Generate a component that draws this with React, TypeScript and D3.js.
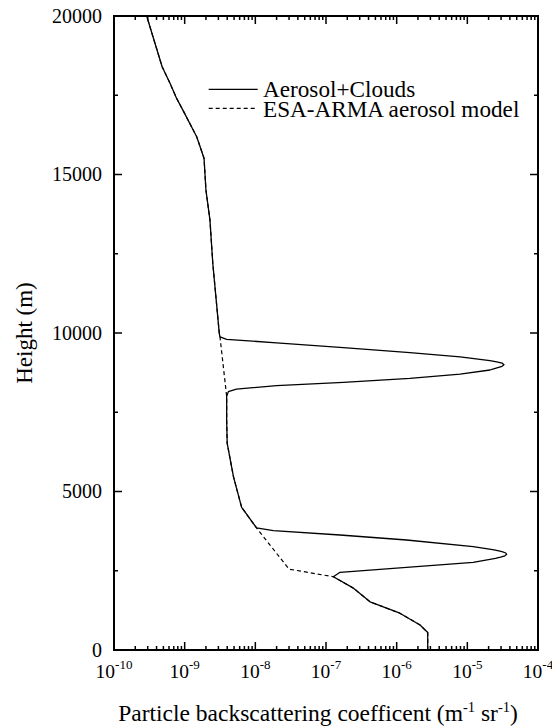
import React from "react";
import * as d3 from "d3";

// ESA-ARMA aerosol model profile (height in m, backscatter in m^-1 sr^-1)
const modelHeights = [0, 550, 790, 1160, 1520, 1950, 2310, 2550, 3850, 4500, 5470, 6520, 7250, 8000, 9880, 9990, 12200, 13560, 14510, 15510, 16190, 17000, 17400, 17880, 18400, 19140, 20000];
const modelValues = [2.75e-6, 2.75e-6, 2.14e-6, 1.11e-6, 4.2e-7, 2.45e-7, 1.27e-7, 3.0e-8, 1.04e-8, 6.4e-9, 4.9e-9, 4.0e-9, 3.93e-9, 3.93e-9, 3.16e-9, 3.09e-9, 2.5e-9, 2.28e-9, 2.0e-9, 1.88e-9, 1.48e-9, 9.6e-10, 7.7e-10, 6.2e-10, 4.8e-10, 3.8e-10, 2.9e-10];

// Upper cloud layer (replaces model between 8000 and 9880 m)
const cloudUpperHeights = [9880, 9800, 9690, 9540, 9380, 9250, 9130, 9090, 9050, 9000, 8950, 8910, 8870, 8833, 8700, 8570, 8445, 8340, 8230, 8150, 8000];
const cloudUpperValues = [3.16e-9, 3.93e-9, 2.0e-8, 1.76e-7, 1.54e-6, 7.9e-6, 2.09e-5, 2.6e-5, 3.1e-5, 3.3e-5, 3.1e-5, 2.7e-5, 2.35e-5, 2.09e-5, 7.9e-6, 1.54e-6, 1.76e-7, 2.0e-8, 5.4e-9, 4.15e-9, 3.93e-9];

// Lower cloud layer (replaces model between 2310 and 3850 m)
const cloudLowerHeights = [3850, 3763, 3628, 3470, 3259, 3160, 3100, 3060, 3019, 2970, 2930, 2890, 2767, 2609, 2451, 2310];
const cloudLowerValues = [1.04e-8, 1.8e-8, 1.58e-7, 1.38e-6, 1.21e-5, 2.4e-5, 3.1e-5, 3.5e-5, 3.6e-5, 3.4e-5, 2.95e-5, 2.5e-5, 1.21e-5, 1.38e-6, 1.58e-7, 1.27e-7];

const xDomain = [1e-10, 1e-4];
const yDomain = [0, 20000];
const yTickValues = [0, 5000, 10000, 15000, 20000];
const xDecadeExponents = [-10, -9, -8, -7, -6, -5, -4];

const legendLabels = ["Aerosol+Clouds", "ESA-ARMA aerosol model"];

const W = 552;
const H = 727;
const left = 114;
const right = 538;
const top = 16;
const bottom = 650;
const FONT = "'Liberation Serif', 'Times New Roman', serif";

type Pt = [number, number];

function zipPts(hs: number[], vs: number[]): Pt[] {
  return hs.map((h, i) => [vs[i], h] as Pt);
}

export default function App() {
  const x = d3.scaleLog().domain(xDomain).range([left, right]);
  const y = d3.scaleLinear().domain(yDomain).range([bottom, top]);

  const model = zipPts(modelHeights, modelValues);
  const up = zipPts(cloudUpperHeights, cloudUpperValues);
  const lo = zipPts(cloudLowerHeights, cloudLowerValues);
  const upMin = d3.min(cloudUpperHeights)!, upMax = d3.max(cloudUpperHeights)!;
  const loMin = d3.min(cloudLowerHeights)!, loMax = d3.max(cloudLowerHeights)!;
  const solid = model
    .filter(([, h]) => !(h >= upMin && h <= upMax) && !(h >= loMin && h <= loMax))
    .concat(up, lo)
    .sort((a, b) => a[1] - b[1]);

  const line = d3
    .line<Pt>()
    .x((d) => x(d[0]))
    .y((d) => y(d[1]));

  const majorLen = 8;
  const minorLen = 4;

  const xMinor: number[] = [];
  for (let e = -10; e < -4; e++) {
    for (let m = 2; m <= 9; m++) xMinor.push(m * Math.pow(10, e));
  }
  const yMinor = d3.range(2500, 20000, 5000);

  const ticks: JSX.Element[] = [];
  xDecadeExponents.forEach((e, i) => {
    const px = x(Math.pow(10, e));
    ticks.push(<line key={"xb" + i} x1={px} x2={px} y1={bottom} y2={bottom - majorLen} />);
    ticks.push(<line key={"xt" + i} x1={px} x2={px} y1={top} y2={top + majorLen} />);
  });
  xMinor.forEach((v, i) => {
    const px = x(v);
    ticks.push(<line key={"xmb" + i} x1={px} x2={px} y1={bottom} y2={bottom - minorLen} />);
    ticks.push(<line key={"xmt" + i} x1={px} x2={px} y1={top} y2={top + minorLen} />);
  });
  yTickValues.forEach((v, i) => {
    const py = y(v);
    ticks.push(<line key={"yl" + i} x1={left} x2={left + majorLen} y1={py} y2={py} />);
    ticks.push(<line key={"yr" + i} x1={right} x2={right - majorLen} y1={py} y2={py} />);
  });
  yMinor.forEach((v, i) => {
    const py = y(v);
    ticks.push(<line key={"yml" + i} x1={left} x2={left + minorLen} y1={py} y2={py} />);
    ticks.push(<line key={"ymr" + i} x1={right} x2={right - minorLen} y1={py} y2={py} />);
  });

  return (
    <div style={{ position: "absolute", left: 0, top: 0, width: W, height: H, background: "#fff" }}>
      <svg width={W} height={H} style={{ display: "block" }} fontFamily={FONT}>
        <rect x={0} y={0} width={W} height={H} fill="#fff" />
        {/* model (dashed) */}
        <path d={line(model)!} fill="none" stroke="#000" strokeWidth={1.2} strokeDasharray="4,3" />
        {/* aerosol + clouds (solid) */}
        <path d={line(solid)!} fill="none" stroke="#000" strokeWidth={1.3} strokeLinejoin="round" />

        {/* frame */}
        <rect x={left} y={top} width={right - left} height={bottom - top} fill="none" stroke="#000" strokeWidth={2} />
        <g stroke="#000" strokeWidth={1.5}>{ticks}</g>

        {/* y tick labels */}
        {yTickValues.map((v) => (
          <text key={"ylab" + v} x={102} y={y(v) + 6.5} textAnchor="end" fontSize={20} fill="#000">
            {String(v)}
          </text>
        ))}
        {/* x tick labels */}
        {xDecadeExponents.map((e) => (
          <text key={"xlab" + e} x={x(Math.pow(10, e))} y={678} textAnchor="middle" fontSize={19.5} fill="#000">
            <tspan>10</tspan>
            <tspan dy={-9} fontSize={13}>{String(e)}</tspan>
          </text>
        ))}

        {/* axis titles */}
        <text transform={`translate(32,${(top + bottom) / 2}) rotate(-90)`} textAnchor="middle" fontSize={23} fill="#000">
          Height (m)
        </text>
        <text x={318} y={721} textAnchor="middle" fontSize={23.5} fill="#000">
          <tspan>Particle backscattering coefficent (m</tspan>
          <tspan dy={-9} fontSize={14.5}>-1</tspan>
          <tspan dy={9}> sr</tspan>
          <tspan dy={-9} fontSize={14.5}>-1</tspan>
          <tspan dy={9}>)</tspan>
        </text>

        {/* legend */}
        <line x1={208.7} x2={257.7} y1={89.3} y2={89.3} stroke="#000" strokeWidth={1.2} />
        <text x={263} y={97} fontSize={23.2} fill="#000">{legendLabels[0]}</text>
        <line x1={208.7} x2={257.7} y1={108.3} y2={108.3} stroke="#000" strokeWidth={1.2} strokeDasharray="4,3" />
        <text x={263} y={117.3} fontSize={23.2} fill="#000">{legendLabels[1]}</text>
      </svg>
    </div>
  );
}
